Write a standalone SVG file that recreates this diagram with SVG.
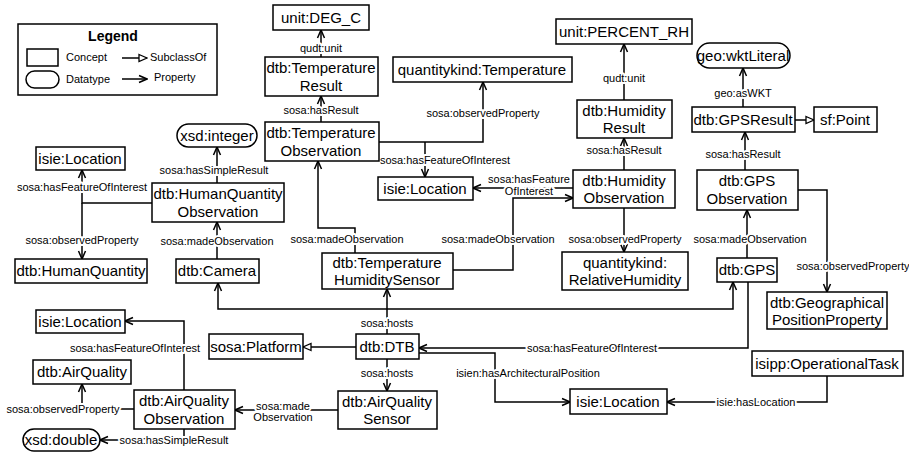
<svg xmlns="http://www.w3.org/2000/svg" width="909" height="456" viewBox="0 0 909 456">
<defs>
<style>
.n rect{fill:#fff;stroke:#000;stroke-width:1.5}
.n text,.lg text{font-family:"Liberation Sans",Arial,sans-serif;fill:#000;text-anchor:middle}
.n text{font-size:15px}
.c path{fill:none;stroke:#000;stroke-width:1.5}
.c .p{marker-end:url(#arr)}
.c .s{marker-end:url(#tri)}
.c text{font-family:"Liberation Sans",Arial,sans-serif;font-size:11px;fill:#000;text-anchor:middle;stroke:#fff;stroke-width:4px;paint-order:stroke;stroke-linejoin:round}
</style>
<marker id="arr" viewBox="0 0 10 10" refX="9" refY="5" markerWidth="10" markerHeight="10" markerUnits="userSpaceOnUse" orient="auto">
<path d="M1,1.5 L9,5 L1,8.5" fill="none" stroke="#000" stroke-width="1.5"/>
</marker>
<marker id="tri" viewBox="0 0 10 10" refX="9" refY="5" markerWidth="10" markerHeight="10" markerUnits="userSpaceOnUse" orient="auto">
<path d="M1,1.5 L9,5 L1,8.5 Z" fill="#fff" stroke="#000" stroke-width="1.3"/>
</marker>
</defs>

<g id="legend" class="lg">
<rect x="18" y="24" width="199" height="71" fill="#fff" stroke="#000" stroke-width="1.5"/>
<text x="113" y="41" font-size="14" font-weight="bold">Legend</text>
<rect x="27" y="49" width="31" height="17" fill="#fff" stroke="#000" stroke-width="1.5"/>
<text x="66" y="61" font-size="11" style="text-anchor:start">Concept</text>
<rect x="26" y="71" width="33" height="17" rx="8.5" fill="#fff" stroke="#000" stroke-width="1.5"/>
<text x="66" y="83" font-size="11" style="text-anchor:start">Datatype</text>
<path d="M122,58 H147" fill="none" stroke="#000" stroke-width="1.5" marker-end="url(#tri)"/>
<text x="150" y="61" font-size="11" style="text-anchor:start">SubclassOf</text>
<path d="M122,79 H147" fill="none" stroke="#000" stroke-width="1.5" marker-end="url(#arr)"/>
<text x="154" y="81" font-size="11" style="text-anchor:start">Property</text>
</g>

<g id="connectors" class="c">
<path class="p" d="M321,57 V30"/>
<path class="p" d="M321,122 V96"/>
<path class="p" d="M379,142 H483 V82"/>
<path class="p" d="M425,142 V177"/>
<path class="p" d="M355,253 V228 H318 V161"/>
<path class="p" d="M453,270 H513 V198 H573"/>
<path class="p" d="M573,188 H473"/>
<path class="p" d="M624,170 V138"/>
<path class="p" d="M624,100 V44"/>
<path class="p" d="M624,208 V252"/>
<path class="p" d="M743,107 V68"/>
<path class="s" d="M795,120 H814"/>
<path class="p" d="M745,170 V132"/>
<path class="p" d="M798,190 H827 V292"/>
<path class="p" d="M747,258 V210"/>
<path class="p" d="M748,282 V348 H419"/>
<path d="M387,334 V309"/>
<path class="p" d="M387,309 H218 V283"/>
<path class="p" d="M387,309 H733 V282"/>
<path class="p" d="M387,309 V289"/>
<path class="p" d="M217,183 V147"/>
<path class="p" d="M217,259 V222"/>
<path class="p" d="M152,203 H82 V170"/>
<path class="p" d="M82,203 V259"/>
<path class="s" d="M356,347 H303"/>
<path class="p" d="M387,359 V391"/>
<path class="p" d="M419,353 H495 V402 H570"/>
<path class="p" d="M827,376 V402 H667"/>
<path class="p" d="M338,410 H235"/>
<path class="p" d="M184,390 V321 H125"/>
<path class="p" d="M134,409 H82 V384"/>
<path class="p" d="M184,429 V440 H100"/>
<text x="321" y="52">qudt:unit</text>
<text x="321" y="114">sosa:hasResult</text>
<text x="483" y="117">sosa:observedProperty</text>
<text x="445" y="164">sosa:hasFeatureOfInterest</text>
<text x="347" y="243">sosa:madeObservation</text>
<text x="498" y="243">sosa:madeObservation</text>
<text x="529" y="183">sosa:hasFeature</text>
<text x="529" y="195">OfInterest</text>
<text x="624" y="154">sosa:hasResult</text>
<text x="624" y="82">qudt:unit</text>
<text x="625" y="243">sosa:observedProperty</text>
<text x="743" y="97">geo:asWKT</text>
<text x="743" y="158">sosa:hasResult</text>
<text x="853" y="270">sosa:observedProperty</text>
<text x="750" y="243">sosa:madeObservation</text>
<text x="592" y="352">sosa:hasFeatureOfInterest</text>
<text x="387" y="327">sosa:hosts</text>
<text x="214" y="174">sosa:hasSimpleResult</text>
<text x="217" y="245">sosa:madeObservation</text>
<text x="82" y="191">sosa:hasFeatureOfInterest</text>
<text x="82" y="244">sosa:observedProperty</text>
<text x="387" y="377">sosa:hosts</text>
<text x="528" y="377">isien:hasArchitecturalPosition</text>
<text x="756" y="406">isie:hasLocation</text>
<text x="283" y="410">sosa:made</text>
<text x="283" y="421">Observation</text>
<text x="135" y="352">sosa:hasFeatureOfInterest</text>
<text x="63" y="413">sosa:observedProperty</text>
<text x="174" y="444">sosa:hasSimpleResult</text>
</g>

<g id="unit_DEG_C" class="n"><rect x="273" y="5" width="96" height="25"/><text x="321" y="23">unit:DEG_C</text></g>
<g id="TemperatureResult" class="n"><rect x="265" y="57" width="113" height="39"/><text x="321" y="73">dtb:Temperature</text><text x="321" y="91">Result</text></g>
<g id="TemperatureObservation" class="n"><rect x="265" y="122" width="114" height="39"/><text x="321" y="138">dtb:Temperature</text><text x="321" y="156">Observation</text></g>
<g id="qk_Temperature" class="n"><rect x="393" y="57" width="179" height="25"/><text x="482" y="75">quantitykind:Temperature</text></g>
<g id="unit_PERCENT_RH" class="n"><rect x="556" y="19" width="136" height="25"/><text x="624" y="37">unit:PERCENT_RH</text></g>
<g id="HumidityResult" class="n"><rect x="577" y="100" width="95" height="38"/><text x="624" y="116">dtb:Humidity</text><text x="624" y="133">Result</text></g>
<g id="HumidityObservation" class="n"><rect x="573" y="170" width="102" height="38"/><text x="624" y="186">dtb:Humidity</text><text x="624" y="203">Observation</text></g>
<g id="qk_RelativeHumidity" class="n"><rect x="562" y="252" width="126" height="38"/><text x="625" y="268">quantitykind:</text><text x="625" y="285">RelativeHumidity</text></g>
<g id="geo_wktLiteral" class="n"><rect x="697" y="43" width="93" height="25" rx="12.5"/><text x="743" y="61">geo:wktLiteral</text></g>
<g id="GPSResult" class="n"><rect x="692" y="107" width="103" height="25"/><text x="743" y="125">dtb:GPSResult</text></g>
<g id="sf_Point" class="n"><rect x="814" y="107" width="63" height="25"/><text x="845" y="125">sf:Point</text></g>
<g id="GPSObservation" class="n"><rect x="697" y="170" width="101" height="40"/><text x="747" y="186">dtb:GPS</text><text x="747" y="204">Observation</text></g>
<g id="GPS" class="n"><rect x="717" y="258" width="60" height="24"/><text x="747" y="275">dtb:GPS</text></g>
<g id="GeographicalPositionProperty" class="n"><rect x="767" y="292" width="120" height="37"/><text x="827" y="308">dtb:Geographical</text><text x="827" y="325">PositionProperty</text></g>
<g id="xsd_integer" class="n"><rect x="177" y="124" width="80" height="23" rx="11.5"/><text x="217" y="141">xsd:integer</text></g>
<g id="isie_Location_1" class="n"><rect x="36" y="147" width="89" height="23"/><text x="80" y="164">isie:Location</text></g>
<g id="HumanQuantityObservation" class="n"><rect x="152" y="183" width="132" height="39"/><text x="218" y="199">dtb:HumanQuantity</text><text x="218" y="217">Observation</text></g>
<g id="HumanQuantity" class="n"><rect x="15" y="259" width="132" height="24"/><text x="81" y="276">dtb:HumanQuantity</text></g>
<g id="Camera" class="n"><rect x="176" y="259" width="83" height="24"/><text x="217" y="276">dtb:Camera</text></g>
<g id="TemperatureHumiditySensor" class="n"><rect x="322" y="253" width="131" height="36"/><text x="387" y="268">dtb:Temperature</text><text x="387" y="285">HumiditySensor</text></g>
<g id="isie_Location_2" class="n"><rect x="378" y="177" width="95" height="23"/><text x="425" y="194">isie:Location</text></g>
<g id="isie_Location_3" class="n"><rect x="36" y="310" width="89" height="23"/><text x="80" y="327">isie:Location</text></g>
<g id="sosa_Platform" class="n"><rect x="209" y="334" width="94" height="25"/><text x="256" y="352">sosa:Platform</text></g>
<g id="DTB" class="n"><rect x="356" y="334" width="63" height="25"/><text x="387" y="352">dtb:DTB</text></g>
<g id="AirQuality" class="n"><rect x="33" y="360" width="98" height="24"/><text x="82" y="377">dtb:AirQuality</text></g>
<g id="AirQualityObservation" class="n"><rect x="134" y="390" width="101" height="39"/><text x="184" y="406">dtb:AirQuality</text><text x="184" y="424">Observation</text></g>
<g id="xsd_double" class="n"><rect x="23" y="429" width="77" height="22" rx="11"/><text x="61" y="445">xsd:double</text></g>
<g id="AirQualitySensor" class="n"><rect x="338" y="391" width="99" height="38"/><text x="387" y="407">dtb:AirQuality</text><text x="387" y="424">Sensor</text></g>
<g id="isie_Location_4" class="n"><rect x="570" y="389" width="97" height="25"/><text x="618" y="407">isie:Location</text></g>
<g id="OperationalTask" class="n"><rect x="752" y="351" width="151" height="25"/><text x="827" y="369">isipp:OperationalTask</text></g>
</svg>
